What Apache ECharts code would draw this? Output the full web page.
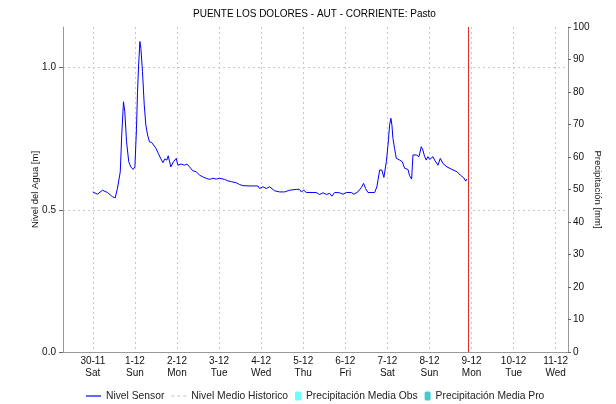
<!DOCTYPE html>
<html>
<head>
<meta charset="utf-8">
<script src="https://cdn.jsdelivr.net/npm/echarts@6/dist/echarts.min.js"></script>
<style>
  html, body { margin: 0; padding: 0; background: #fff; }
  #chart { width: 616px; height: 404px; }
</style>
</head>
<body>
<div id="chart"></div>
<script>
var chartTitle = 'PUENTE LOS DOLORES - AUT - CORRIENTE: Pasto';

// lecturas del sensor (m), hora local
var sensorTimes = [
  '2024-11-30 00:00', '2024-11-30 02:40', '2024-11-30 05:30', '2024-11-30 08:20', '2024-11-30 11:15',
  '2024-11-30 12:45', '2024-11-30 14:05', '2024-11-30 15:40', '2024-11-30 16:30', '2024-11-30 17:30',
  '2024-11-30 18:15', '2024-11-30 19:15', '2024-11-30 20:30', '2024-11-30 21:40', '2024-11-30 23:00',
  '2024-12-01 00:00', '2024-12-01 00:55', '2024-12-01 01:30', '2024-12-01 02:05', '2024-12-01 02:50',
  '2024-12-01 03:25', '2024-12-01 04:20', '2024-12-01 05:20', '2024-12-01 06:15', '2024-12-01 07:15',
  '2024-12-01 08:20', '2024-12-01 09:30', '2024-12-01 10:40', '2024-12-01 12:00', '2024-12-01 13:20',
  '2024-12-01 14:50', '2024-12-01 16:00', '2024-12-01 17:05', '2024-12-01 18:15', '2024-12-01 19:00',
  '2024-12-01 20:30', '2024-12-01 22:00', '2024-12-01 23:35', '2024-12-02 00:30', '2024-12-02 02:25',
  '2024-12-02 04:20', '2024-12-02 05:40', '2024-12-02 07:10', '2024-12-02 09:05', '2024-12-02 11:00',
  '2024-12-02 12:50', '2024-12-02 14:45', '2024-12-02 16:40', '2024-12-02 18:35', '2024-12-02 20:30',
  '2024-12-02 22:25', '2024-12-03 00:15', '2024-12-03 03:10', '2024-12-03 05:00', '2024-12-03 07:00',
  '2024-12-03 09:50', '2024-12-03 11:40', '2024-12-03 13:35', '2024-12-03 17:25', '2024-12-03 22:10',
  '2024-12-03 23:05', '2024-12-04 01:00', '2024-12-04 02:55', '2024-12-04 04:50', '2024-12-04 07:40',
  '2024-12-04 10:30', '2024-12-04 13:20', '2024-12-04 16:15', '2024-12-04 20:00', '2024-12-04 21:55',
  '2024-12-04 22:55', '2024-12-05 00:20', '2024-12-05 01:45', '2024-12-05 07:25', '2024-12-05 09:20',
  '2024-12-05 11:15', '2024-12-05 13:10', '2024-12-05 15:00', '2024-12-05 16:20', '2024-12-05 17:55',
  '2024-12-05 20:45', '2024-12-05 22:40', '2024-12-06 00:35', '2024-12-06 03:25', '2024-12-06 04:55',
  '2024-12-06 07:10', '2024-12-06 09:05', '2024-12-06 10:25', '2024-12-06 11:35', '2024-12-06 12:55',
  '2024-12-06 16:45', '2024-12-06 18:00', '2024-12-06 19:35', '2024-12-06 20:50', '2024-12-06 22:00',
  '2024-12-06 23:25', '2024-12-07 00:15', '2024-12-07 00:40', '2024-12-07 01:15', '2024-12-07 02:00',
  '2024-12-07 02:35', '2024-12-07 03:10', '2024-12-07 04:05', '2024-12-07 05:05', '2024-12-07 07:00',
  '2024-12-07 08:30', '2024-12-07 09:50', '2024-12-07 11:45', '2024-12-07 12:40', '2024-12-07 13:50',
  '2024-12-07 14:35', '2024-12-07 16:30', '2024-12-07 18:00', '2024-12-07 19:20', '2024-12-07 20:15',
  '2024-12-07 21:15', '2024-12-07 22:10', '2024-12-07 23:05', '2024-12-08 00:05', '2024-12-08 02:00',
  '2024-12-08 02:55', '2024-12-08 04:50', '2024-12-08 06:10', '2024-12-08 07:40', '2024-12-08 10:00',
  '2024-12-08 12:30', '2024-12-08 15:40', '2024-12-08 17:35', '2024-12-08 19:30', '2024-12-08 20:40',
  '2024-12-08 21:20'
];
var sensorValues = [
  0.563, 0.555, 0.569, 0.561, 0.546,
  0.542, 0.576, 0.634, 0.763, 0.880,
  0.845, 0.739, 0.669, 0.651, 0.642,
  0.651, 0.787, 0.915, 1.003, 1.092,
  1.068, 0.986, 0.869, 0.798, 0.763,
  0.739, 0.737, 0.728, 0.716, 0.699,
  0.679, 0.666, 0.679, 0.675, 0.690,
  0.651, 0.669, 0.681, 0.657, 0.661,
  0.657, 0.661, 0.651, 0.637, 0.634,
  0.622, 0.616, 0.611, 0.607, 0.611,
  0.608, 0.611, 0.607, 0.602, 0.599,
  0.595, 0.589, 0.585, 0.584, 0.584,
  0.575, 0.581, 0.575, 0.581, 0.567,
  0.563, 0.563, 0.569, 0.572, 0.572,
  0.563, 0.569, 0.561, 0.561, 0.554,
  0.560, 0.554, 0.558, 0.548, 0.561,
  0.560, 0.555, 0.561, 0.561, 0.555,
  0.563, 0.578, 0.593, 0.575, 0.561,
  0.561, 0.581, 0.640, 0.640, 0.614,
  0.670, 0.722, 0.751, 0.798, 0.822,
  0.798, 0.751, 0.716, 0.681, 0.675,
  0.669, 0.646, 0.642, 0.620, 0.608,
  0.693, 0.693, 0.687, 0.722, 0.710,
  0.687, 0.675, 0.687, 0.677, 0.687,
  0.675, 0.657, 0.681, 0.663, 0.651,
  0.643, 0.634, 0.622, 0.613, 0.601,
  0.608
];
// series sin datos en la imagen
var historicoValues = [];
var precipObsValues = [];
var precipProValues = [];

var dayTicks = ['2024-11-30', '2024-12-01', '2024-12-02', '2024-12-03', '2024-12-04', '2024-12-05',
  '2024-12-06', '2024-12-07', '2024-12-08', '2024-12-09', '2024-12-10', '2024-12-11'];
var weekDays = ['Sun', 'Mon', 'Tue', 'Wed', 'Thu', 'Fri', 'Sat'];
var levelTicks = [0, 0.5, 1.0];
var axisStart = '2024-11-29 07:00';
var axisEnd = '2024-12-11 07:00';
var nowTime = '2024-12-08 22:20';

function toMs(s) {
  var p = s.split(/[- :]/);
  return Date.UTC(+p[0], +p[1] - 1, +p[2], +(p[3] || 0), +(p[4] || 0));
}

var font = 'Liberation Sans, Arial, sans-serif';
var dayMs = dayTicks.map(toMs);
var sensorData = sensorTimes.map(function (t, i) { return [toMs(t), sensorValues[i]]; });
var legendText = { fontSize: 10.3, color: '#222', fontFamily: font };

var chart = echarts.init(document.getElementById('chart'));
chart.setOption({
  animation: false,
  backgroundColor: '#fff',
  textStyle: { fontFamily: font },
  title: {
    text: chartTitle,
    left: 193,
    top: 9,
    padding: 0,
    textStyle: { fontSize: 10, fontWeight: 'normal', color: '#000', fontFamily: font }
  },
  legend: [{
    top: 391,
    left: 86,
    padding: 0,
    itemWidth: 15,
    itemHeight: 9,
    itemGap: 7,
    textStyle: legendText,
    data: [
      { name: 'Nivel Sensor', icon: 'path://M0,0h15v1.2h-15z', itemStyle: { color: '#0000ff', borderWidth: 0 } },
      { name: 'Nivel Medio Historico', icon: 'path://M0,0h3v1h-3zM6,0h3v1h-3zM12,0h3v1h-3z',
        itemStyle: { color: '#c0c0c0', borderWidth: 0 } }
    ]
  }, {
    top: 391,
    left: 295,
    padding: 0,
    itemWidth: 6,
    itemHeight: 9,
    itemGap: 7,
    textStyle: legendText,
    data: ['Precipitación Media Obs', 'Precipitación Media Pro']
  }],
  grid: { left: 63, right: 48, top: 27, bottom: 52, outerBoundsMode: 'none', containLabel: false },
  xAxis: [{
    type: 'value',
    min: toMs(axisStart),
    max: toMs(axisEnd),
    axisLine: { show: true, lineStyle: { color: '#222', type: [1, 1], width: 1 } },
    axisTick: { show: false, customValues: dayMs },
    axisLabel: {
      customValues: dayMs,
      fontSize: 10,
      color: '#111',
      margin: 3,
      lineHeight: 12,
      formatter: function (v) {
        var d = new Date(v);
        return d.getUTCDate() + '-' + (d.getUTCMonth() + 1) + '\n' + weekDays[d.getUTCDay()];
      }
    },
    splitLine: { show: true, lineStyle: { color: '#c8c8c8', type: [2, 3], width: 1 } }
  }, {
    type: 'value',
    position: 'top',
    min: toMs(axisStart),
    max: toMs(axisEnd),
    axisLine: { show: true, lineStyle: { color: '#999' } },
    axisTick: { show: false },
    axisLabel: { show: false },
    splitLine: { show: false }
  }],
  yAxis: [{
    type: 'value',
    min: 0,
    max: 1.143,
    name: 'Nivel del Agua [m]',
    nameLocation: 'middle',
    nameMoveOverlap: false,
    nameGap: 23,
    nameTextStyle: { fontSize: 9.5, color: '#111', fontFamily: font },
    axisLine: { show: true, lineStyle: { color: '#999' } },
    axisTick: { show: true, customValues: levelTicks, length: 4, lineStyle: { color: '#666' } },
    axisLabel: {
      customValues: levelTicks,
      fontSize: 10,
      color: '#111',
      margin: 7,
      formatter: function (v) { return v.toFixed(1); }
    },
    splitLine: { show: true, lineStyle: { color: '#c8c8c8', type: [2, 3], width: 1 } }
  }, {
    type: 'value',
    min: 0,
    max: 100,
    interval: 10,
    position: 'right',
    name: 'Precipitación [mm]',
    nameLocation: 'middle',
    nameMoveOverlap: false,
    nameRotate: -90,
    nameGap: 25,
    nameTextStyle: { fontSize: 9.5, color: '#111', fontFamily: font },
    axisLine: { show: true, lineStyle: { color: '#999' } },
    axisTick: { show: true, length: 3, lineStyle: { color: '#666' } },
    axisLabel: { fontSize: 10, color: '#111', margin: 5 },
    splitLine: { show: false }
  }],
  series: [{
    name: 'Nivel Sensor',
    type: 'line',
    data: sensorData,
    symbol: 'none',
    color: '#0000ff',
    lineStyle: { color: '#0000ff', width: 1 },
    z: 3,
    markLine: {
      silent: true,
      symbol: ['none', 'none'],
      label: { show: false },
      lineStyle: { color: '#e03030', type: 'solid', width: 1 },
      data: [{ xAxis: toMs(nowTime), lineStyle: { color: '#e03030', type: 'solid', width: 1 } }]
    }
  }, {
    name: 'Nivel Medio Historico',
    type: 'line',
    data: historicoValues,
    symbol: 'none',
    color: '#c0c0c0',
    lineStyle: { color: '#c0c0c0', type: [3, 3], width: 1 }
  }, {
    name: 'Precipitación Media Obs',
    type: 'bar',
    yAxisIndex: 1,
    data: precipObsValues,
    itemStyle: { color: '#66ffff' }
  }, {
    name: 'Precipitación Media Pro',
    type: 'bar',
    yAxisIndex: 1,
    data: precipProValues,
    itemStyle: { color: '#44cccc' }
  }]
});
</script>
</body>
</html>
